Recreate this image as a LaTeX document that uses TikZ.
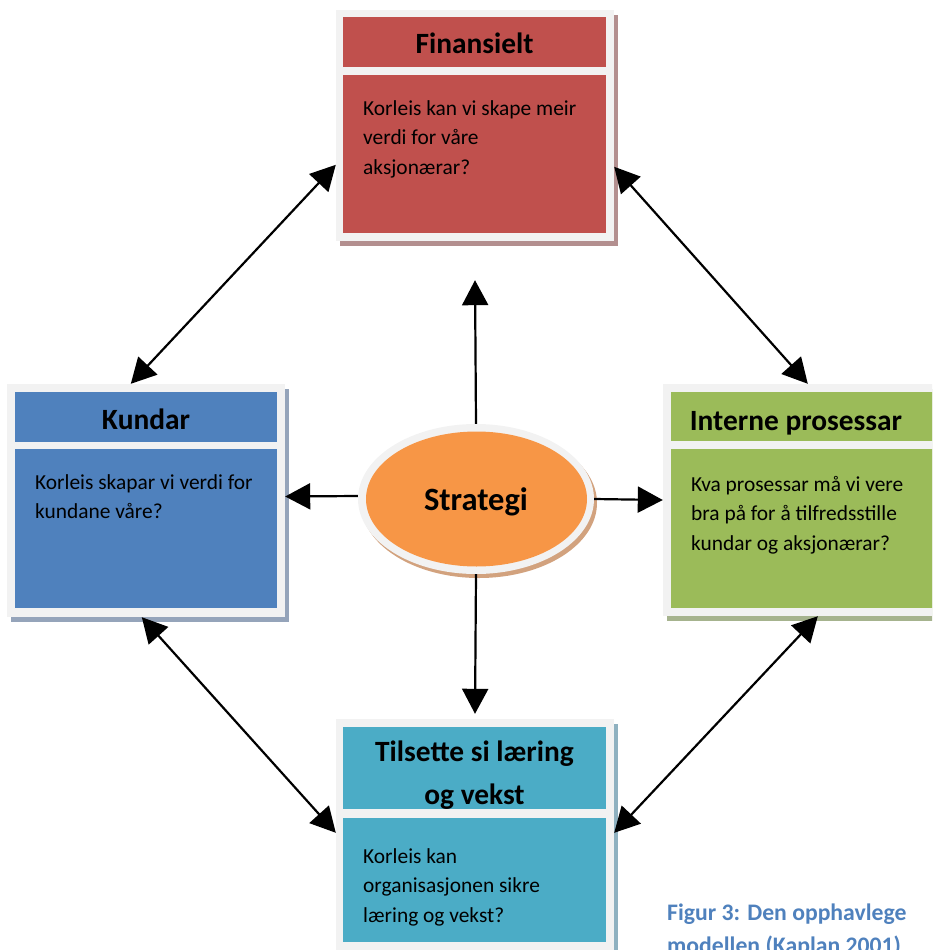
\documentclass[tikz,border=0pt]{standalone}
\usepackage{fontspec}
\setmainfont{Carlito}
\usetikzlibrary{arrows.meta,shapes.geometric,shadows}

\definecolor{frameg}{HTML}{F2F2F2}
\definecolor{finred}{HTML}{C0504D}
\definecolor{kunblue}{HTML}{4F81BD}
\definecolor{intgreen}{HTML}{9BBB59}
\definecolor{tilcyan}{HTML}{4BACC6}
\definecolor{strorange}{HTML}{F79646}
\definecolor{capblue}{HTML}{4F81BD}
\definecolor{finshade}{HTML}{B38F8F}
\definecolor{kunshade}{HTML}{95A4BA}
\definecolor{intshade}{HTML}{A6B38E}
\definecolor{tilshade}{HTML}{8FB1C0}
\definecolor{strshade}{HTML}{D2A27E}

\tikzset{
  frame/.style={rectangle, fill=frameg, inner sep=0pt, minimum width=278pt},
  band/.style={rectangle, inner sep=0pt, minimum width=263pt},
  ttl/.style={font=\bfseries\fontsize{29.4}{43}\selectfont, inner sep=0pt, anchor=base},
  txt/.style={font=\fontsize{21.4}{29.5}\selectfont, inner sep=0pt, anchor=base west},
  link/.style={line width=2.2pt, -{Triangle[length=25pt,width=26pt]}},
  biarrow/.style={line width=2.2pt, {Triangle[length=25pt,width=26pt]}-{Triangle[length=25pt,width=26pt]}},
}

\begin{document}
\begin{tikzpicture}[x=1pt, y=-1pt]
\useasboundingbox (0,0) rectangle (932,950);
\clip (0,0) rectangle (932,950);

% Finansielt
\node[frame, minimum height=231pt, general shadow={fill=finshade, shadow xshift=4pt, shadow yshift=-5pt}] (fin) at (475,125.5) {};
\node[band, fill=finred, minimum height=50pt] (finT) at (474.5,42) {};
\node[band, fill=finred, minimum height=158pt] (finB) at (474.5,154) {};
\node[ttl] (finTt) at (474.5,54) {Finansielt};
\node[txt] (finBt) at (363,115) {\vtop{\hbox{Korleis kan vi skape meir}\hbox{verdi for våre}\hbox{aksjonærar?}}};

% Kundar
\node[frame, minimum height=233pt, general shadow={fill=kunshade, shadow xshift=4pt, shadow yshift=-5pt}] (kun) at (146,500.5) {};
\node[band, fill=kunblue, minimum width=262pt, minimum height=50pt] (kunT) at (146,417) {};
\node[band, fill=kunblue, minimum width=262pt, minimum height=159pt] (kunB) at (146,528.5) {};
\node[ttl] (kunTt) at (146,429) {Kundar};
\node[txt] (kunBt) at (35,489) {\vtop{\hbox{Korleis skapar vi verdi for}\hbox{kundane våre?}}};

% Interne prosessar
\node[frame, minimum height=232pt, general shadow={fill=intshade, shadow xshift=4pt, shadow yshift=-5pt}] (int) at (802,500) {};
\node[band, fill=intgreen, minimum width=262pt, minimum height=49pt] (intT) at (802,416.5) {};
\node[band, fill=intgreen, minimum width=262pt, minimum height=159pt] (intB) at (802,528.5) {};
\node[ttl] (intTt) at (796,430) {Interne prosessar};
\node[txt] (intBt) at (691,491) {\vtop{\hbox{Kva prosessar må vi vere}\hbox{bra på for å tilfredsstille}\hbox{kundar og aksjonærar?}}};

% Tilsette si læring og vekst
\node[frame, minimum height=233pt, general shadow={fill=tilshade, shadow xshift=4pt, shadow yshift=-5pt}] (til) at (475,835.5) {};
\node[band, fill=tilcyan, minimum height=82pt] (tilT) at (474.5,768) {};
\node[band, fill=tilcyan, minimum height=124pt] (tilB) at (474.5,880) {};
\node[ttl] (tilTt) at (474.5,761) {\vtop{\halign{\hfil#\hfil\cr Tilsette si læring\cr og vekst\cr}}};
\node[txt] (tilBt) at (363,863) {\vtop{\hbox{Korleis kan}\hbox{organisasjonen sikre}\hbox{læring og vekst?}}};

% Strategi
\node[ellipse, fill=frameg, inner sep=0pt, minimum width=236pt, minimum height=150pt,
      general shadow={fill=strshade, shadow xshift=3pt, shadow yshift=-4pt}] (str) at (476,499) {};
\node[ellipse, fill=strorange, inner sep=0pt, minimum width=221pt, minimum height=135pt] (strIn) at (476.5,499) {};
\node[font=\bfseries\fontsize{32.5}{38}\selectfont, inner sep=0pt, anchor=base] (strT) at (476,510) {Strategi};

% Connectors from the strategy
\draw[link] (str.north) -- ([yshift=-39pt]fin.south);
\draw[link] (str.south) -- ([yshift=5pt]til.north);
\draw[link] ([yshift=3pt]str.west) -- ([yshift=4pt]kun.east);
\draw[link] (str.east) -- (int.west);

% Connectors between the perspectives
\draw[biarrow] ([yshift=-155pt]fin.north west) -- ([xshift=124pt]kun.north west);
\draw[biarrow] ([yshift=-157pt]fin.north east) -- ([xshift=145pt]int.north west);
\draw[biarrow] ([xshift=135pt]kun.south west) -- ([yshift=-114pt]til.north west);
\draw[biarrow] ([xshift=155pt]int.south west) -- ([yshift=-114pt]til.north east);

% Caption
\node[font=\bfseries\fontsize{23.7}{33}\selectfont, text=capblue, inner sep=0pt, anchor=base west] (cap) at (667,920)
  {\vtop{\hbox{Figur 3: Den opphavlege}\hbox{modellen (Kaplan 2001)}}};
\end{tikzpicture}
\end{document}
